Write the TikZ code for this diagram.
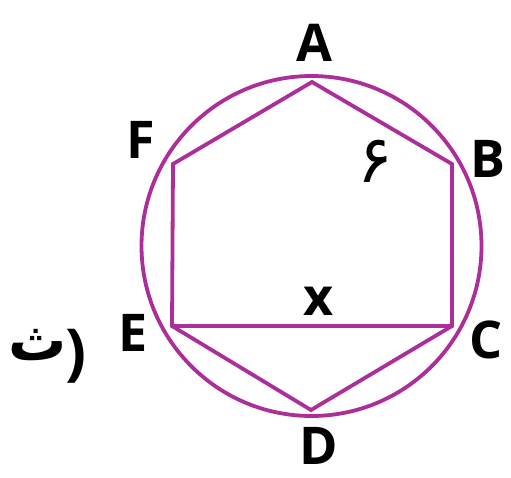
\documentclass[tikz,border=0pt]{standalone}
\usepackage{fontspec}
\setmainfont{Open Sans}
\newfontfamily\arabicfont[Script=Arabic]{DejaVu Sans}
\definecolor{hexmag}{RGB}{172,46,154}
\begin{document}
\begin{tikzpicture}[x=1pt,y=-1pt,
  shapeline/.style={draw=hexmag,line width=3.8pt,line join=miter},
  vlabel/.style={inner sep=0pt,anchor=center,font=\fontsize{52}{52}\selectfont\bfseries},
  arlabel/.style={inner sep=0pt,anchor=center,font=\arabicfont\bfseries}]
\useasboundingbox (0,0) rectangle (511,478);
% vertices
\coordinate (A) at (312,82);
\coordinate (B) at (452,164);
\coordinate (C) at (452,326);
\coordinate (D) at (311,410);
\coordinate (E) at (172,326);
\coordinate (F) at (173,164);
\coordinate (O) at (311.5,246);
% circle and hexagon
\draw[shapeline] (O) circle[radius=170];
\draw[shapeline] (A) -- (B) -- (C) -- (D) -- (E) -- (F) -- cycle;
\draw[shapeline] (E) -- (C);
% labels
\node[vlabel] (lA) at (314,43) {A};
\node[vlabel] (lB) at (488,159) {B};
\node[vlabel] (lC) at (486,340) {C};
\node[vlabel] (lD) at (319,446) {D};
\node[vlabel] (lE) at (133,333) {E};
\node[vlabel] (lF) at (141,140) {F};
\node[vlabel] (lx) at (319,301) {x};
\node[arlabel,font=\arabicfont\fontsize{66}{66}\selectfont] (l6) at (375,161) {۶};
\node[arlabel,font=\arabicfont\bfseries\fontsize{58}{58}\selectfont] (lth) at (38,345) {ث};
\node[inner sep=0pt,anchor=center,font=\fontsize{62}{62}\selectfont\bfseries] (lpar) at (76,356) {)};
\end{tikzpicture}
\end{document}
